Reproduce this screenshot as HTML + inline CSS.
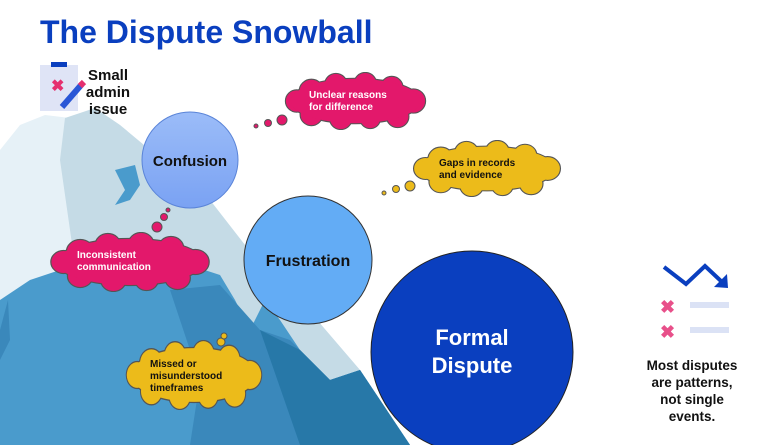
<!DOCTYPE html>
<html><head><meta charset="utf-8"><style>
html,body{margin:0;padding:0;background:#fff;}
svg{display:block;font-family:"Liberation Sans",sans-serif;font-weight:bold;}
</style></head><body>
<svg width="768" height="445" viewBox="0 0 768 445">
<defs>
<symbol id="cl" viewBox="0 0 150 60" preserveAspectRatio="none">
<g stroke="#555" stroke-width="2.2">
<circle cx="30" cy="20" r="12"/><circle cx="55" cy="13" r="11"/><circle cx="85" cy="12" r="11"/><circle cx="112" cy="16" r="11"/><circle cx="134" cy="30" r="12"/><circle cx="118" cy="46" r="11"/><circle cx="90" cy="48" r="10"/><circle cx="60" cy="48" r="11"/><circle cx="30" cy="44" r="11"/><circle cx="15" cy="30" r="11"/>
<ellipse cx="75" cy="30" rx="66" ry="23"/>
</g>
<g>
<circle cx="30" cy="20" r="12"/><circle cx="55" cy="13" r="11"/><circle cx="85" cy="12" r="11"/><circle cx="112" cy="16" r="11"/><circle cx="134" cy="30" r="12"/><circle cx="118" cy="46" r="11"/><circle cx="90" cy="48" r="10"/><circle cx="60" cy="48" r="11"/><circle cx="30" cy="44" r="11"/><circle cx="15" cy="30" r="11"/>
<ellipse cx="75" cy="30" rx="66" ry="23"/>
</g>
</symbol>
<linearGradient id="gc" x1="0" y1="0" x2="0" y2="1"><stop offset="0" stop-color="#9bbcf8"/><stop offset="1" stop-color="#7aa2f3"/></linearGradient>
</defs>
<text x="40" y="43" font-size="32" fill="#0a3fbf">The Dispute Snowball</text>

<!-- mountain -->
<polygon points="0,150 20,125 45,115 70,118 95,108 120,125 150,150 180,175 210,200 245,245 300,300 360,370 410,445 0,445" fill="#e6f1f7"/>
<polygon points="60,160 65,118 95,108 120,125 150,150 180,175 210,200 245,245 300,300 360,370 410,445 90,445 80,300" fill="#c5dbe6"/>
<polygon points="0,300 30,280 60,270 120,268 180,262 220,275 235,300 250,330 265,300 280,320 300,350 330,380 360,370 410,445 0,445" fill="#4a9bcc"/>
<polygon points="170,290 220,285 260,330 290,340 330,380 360,370 410,445 190,445 200,380" fill="#3a88bb"/>
<polygon points="260,330 300,350 330,380 360,370 410,445 300,445" fill="#2778a8"/>
<polygon points="115,170 135,165 140,185 130,200 115,205 125,190" fill="#4a9bcc"/>
<polygon points="0,330 8,300 10,340 0,360" fill="#3a88bb"/>

<!-- clipboard icon -->
<rect x="40" y="65" width="38" height="46" fill="#dfe4f6"/>
<rect x="51" y="62" width="16" height="5" fill="#0a3fbf"/>
<text x="51" y="91" font-size="16" fill="#e5306f">✖</text>
<line x1="62" y1="107" x2="82" y2="84" stroke="#2a57d6" stroke-width="6"/>
<line x1="80" y1="86" x2="84" y2="82" stroke="#e5306f" stroke-width="6"/>
<text font-size="15" fill="#111" text-anchor="middle"><tspan x="108" y="80">Small</tspan><tspan x="108" y="97">admin</tspan><tspan x="108" y="114">issue</tspan></text>

<!-- bubbles -->
<use href="#cl" x="282" y="72" width="147" height="58" fill="#e3186b"/>
<use href="#cl" x="410" y="140" width="154" height="57" fill="#ecbb1a"/>
<use href="#cl" x="47" y="232" width="166" height="60" fill="#e3186b"/>
<use href="#cl" x="123" y="340" width="142" height="70" fill="#ecbb1a"/>
<g stroke="#555" stroke-width="1">
<circle cx="256" cy="126" r="2" fill="#e3186b"/><circle cx="268" cy="123" r="3.5" fill="#e3186b"/><circle cx="282" cy="120" r="5" fill="#e3186b"/>
<circle cx="384" cy="193" r="2" fill="#ecbb1a"/><circle cx="396" cy="189" r="3.5" fill="#ecbb1a"/><circle cx="410" cy="186" r="5" fill="#ecbb1a"/>
<circle cx="168" cy="210" r="2" fill="#e3186b"/><circle cx="164" cy="217" r="3.5" fill="#e3186b"/><circle cx="157" cy="227" r="5" fill="#e3186b"/>
<circle cx="221" cy="342" r="4" fill="#ecbb1a"/><circle cx="224" cy="336" r="3" fill="#ecbb1a"/>
</g>
<g font-size="10" fill="#fff">
<text x="309" y="98">Unclear reasons</text><text x="309" y="110">for difference</text>
<text x="77" y="258">Inconsistent</text><text x="77" y="270">communication</text>
</g>
<g font-size="10" fill="#111">
<text x="439" y="166">Gaps in records</text><text x="439" y="178">and evidence</text>
<text x="150" y="367">Missed or</text><text x="150" y="379">misunderstood</text><text x="150" y="391">timeframes</text>
</g>

<!-- circles -->
<circle cx="190" cy="160" r="48" fill="url(#gc)" stroke="#5a84d8" stroke-width="1"/>
<text x="190" y="166" font-size="15" fill="#111" text-anchor="middle">Confusion</text>
<circle cx="308" cy="260" r="64" fill="#63acf5" stroke="#333" stroke-width="1"/>
<text x="308" y="266" font-size="16" fill="#111" text-anchor="middle">Frustration</text>
<circle cx="472" cy="352" r="101" fill="#0a3fbf" stroke="#222" stroke-width="1"/>
<text x="472" y="345" font-size="22" fill="#fff" text-anchor="middle">Formal</text>
<text x="472" y="373" font-size="22" fill="#fff" text-anchor="middle">Dispute</text>

<!-- right icon -->
<polyline points="664,267 686,284 705,266 722,282" fill="none" stroke="#0a3fbf" stroke-width="4"/>
<polygon points="728,288 714,287 727,274" fill="#0a3fbf"/>
<text x="660" y="313" font-size="18" fill="#e8508a">✖</text>
<text x="660" y="338" font-size="18" fill="#e8508a">✖</text>
<rect x="690" y="302" width="39" height="6" fill="#dbe2f5"/>
<rect x="690" y="327" width="39" height="6" fill="#dbe2f5"/>
<text font-size="13.5" fill="#111" text-anchor="middle"><tspan x="692" y="370">Most disputes</tspan><tspan x="692" y="387">are patterns,</tspan><tspan x="692" y="404">not single</tspan><tspan x="692" y="421">events.</tspan></text>
</svg>
</body></html>
